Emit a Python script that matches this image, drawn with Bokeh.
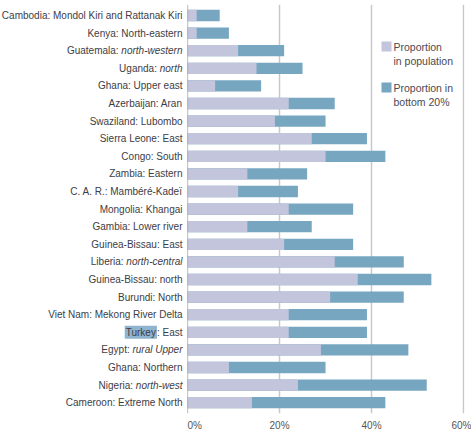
from bokeh.plotting import figure
from bokeh.layouts import row
from bokeh.models import (Range1d, FixedTicker, PrintfTickFormatter, Span, Label,
                          ColumnDataSource, BoxAnnotation)
from bokeh.core.properties import value
from bokeh.embed import file_html
from bokeh.resources import INLINE

# ---------------- data ----------------
label_main = [
    "Cambodia: Mondol Kiri and Rattanak Kiri",
    "Kenya: North-eastern",
    "Guatemala:",
    "Uganda:",
    "Ghana: Upper east",
    "Azerbaijan: Aran",
    "Swaziland: Lubombo",
    "Sierra Leone: East",
    "Congo: South",
    "Zambia: Eastern",
    "C. A. R.: Mambéré-Kadeï",
    "Mongolia: Khangai",
    "Gambia: Lower river",
    "Guinea-Bissau: East",
    "Liberia:",
    "Guinea-Bissau: north",
    "Burundi: North",
    "Viet Nam: Mekong River Delta",
    "Turkey: East",
    "Egypt:",
    "Ghana: Northern",
    "Nigeria:",
    "Cameroon: Extreme North",
]
label_italic = [
    "", "", "north-western", "north", "", "", "", "", "", "", "", "",
    "", "", "north-central", "", "", "", "", "rural Upper", "", "north-west", "",
]
pop = [2, 2, 11, 15, 6, 22, 19, 27, 30, 13, 11, 22, 13, 21, 32, 37, 31, 22, 22, 29, 9, 24, 14]
bottom20 = [7, 9, 21, 25, 16, 32, 30, 39, 43, 26, 24, 36, 27, 36, 47, 53, 47, 39, 39, 48, 30, 52, 43]
x_ticks = [0, 20, 40, 60]
highlighted = {"Turkey: East": "Turkey"}
legend_labels = [["Proportion", "in population"], ["Proportion in", "bottom 20%"]]

# ---------------- style ----------------
FONT = "Liberation Sans"
FS = 10.0
LIGHT = "#c2c5dc"
BLUE = "#77a6c1"
TEXT = "#3d3d45"

# Arial / Liberation Sans advance widths, 1/1000 em
W = {" ": 278, ":": 278, "-": 333, "E": 667, "U": 722, "T": 611, "a": 556, "c": 500,
     "e": 556, "h": 556, "k": 500, "l": 222, "n": 556, "o": 556, "p": 556, "r": 333,
     "s": 500, "t": 278, "u": 556, "w": 722, "y": 500}


def tw(s):
    return sum(W.get(c, 520) for c in s) * FS / 1000.0


n = len(label_main)
ypos = [n - 1 - i for i in range(n)]

TOP = 4
FH = 409
LW = 187          # width of label column (page x of 0%)
FW = 277
yr = Range1d(-0.614, 22.625)

# ---------------- label column ----------------
lab = figure(frame_width=LW, frame_height=FH, min_border_left=0, min_border_right=0,
             min_border_top=TOP, min_border_bottom=0,
             x_range=Range1d(0, 1), y_range=yr, x_axis_location=None, y_axis_location=None,
             output_backend="svg", toolbar_location=None)
lab.outline_line_color = None
lab.grid.visible = False

GAP = 5
main_txt, main_off = [], []
for i, (m, it) in enumerate(zip(label_main, label_italic)):
    txt = m
    off = GAP
    if it:
        off += tw(it) + tw(" ")
    if m in highlighted:
        word = highlighted[m]
        rest = m[len(word):]
        txt = rest
        lab.text(x=[1], y=[ypos[i]], text=[word], x_offset=-(GAP + tw(rest)),
                 text_align="right", text_baseline="middle",
                 text_font=value(FONT), text_font_size="%gpx" % FS, text_color=TEXT,
                 background_fill_color="#8fb4d0", padding=1)
    main_txt.append(txt)
    main_off.append(-off)

lab_src = ColumnDataSource(dict(x=[1] * n, y=ypos, text=main_txt, xoff=main_off))
lab.text(x="x", y="y", text="text", x_offset="xoff", source=lab_src,
         text_align="right", text_baseline="middle", text_font=value(FONT),
         text_font_size="%gpx" % FS, text_color=TEXT)
it_src = ColumnDataSource(dict(x=[1] * n, y=ypos, text=label_italic))
lab.text(x="x", y="y", text="text", x_offset=-GAP, source=it_src,
         text_align="right", text_baseline="middle", text_font=value(FONT),
         text_font_style="italic", text_font_size="%gpx" % FS, text_color=TEXT)

# ---------------- bars ----------------
p = figure(frame_width=FW, frame_height=FH, min_border_left=0, min_border_right=471 - LW - FW,
           min_border_top=TOP, min_border_bottom=0,
           x_range=Range1d(0, 60.2), y_range=yr, y_axis_location=None,
           output_backend="svg", toolbar_location=None)
p.outline_line_color = None
p.background_fill_color = "white"

src = ColumnDataSource(dict(y=ypos, pop=pop, bottom=bottom20))
p.hbar(y="y", left=0, right="bottom", height=0.64, source=src, fill_color=BLUE, line_color=None)
p.hbar(y="y", left=0, right="pop", height=0.64, source=src, fill_color=LIGHT, line_color=None)

p.ygrid.grid_line_color = None
p.xgrid.ticker = FixedTicker(ticks=x_ticks)
p.xgrid.grid_line_color = "#c8c8c8"
p.xgrid.grid_line_width = 1.5
ax = p.xaxis[0]
ax.ticker = FixedTicker(ticks=x_ticks)
ax.formatter = PrintfTickFormatter(format="%d%%")
ax.axis_line_color = None
ax.major_tick_line_color = None
ax.minor_tick_line_color = None
ax.major_tick_out = 0
ax.major_tick_in = 0
ax.minor_tick_out = 0
ax.minor_tick_in = 0
ax.major_label_standoff = 6
ax.major_label_text_font = FONT
ax.major_label_text_font_size = "10px"
ax.major_label_text_color = "#555555"

p.add_layout(Span(location=0, dimension="height", line_color="#8c8f96", line_width=1.2))

# legend (screen units relative to frame: x from frame left, y from frame bottom)
FRAME_BOTTOM_PAGE = TOP + FH


def sx(page_x):
    return page_x - LW


def sy(page_y):
    return FRAME_BOTTOM_PAGE - page_y


legend_colors = [LIGHT, BLUE]
legend_top = [41, 82]
for k, (col, lines) in enumerate(zip(legend_colors, legend_labels)):
    t = legend_top[k]
    p.add_layout(BoxAnnotation(left=sx(381), right=sx(391), top=sy(t), bottom=sy(t + 10),
                               left_units="screen", right_units="screen",
                               top_units="screen", bottom_units="screen",
                               fill_color=col, fill_alpha=1, line_color=None))
    for j, line in enumerate(lines):
        p.add_layout(Label(x=sx(393), y=sy(t + 5 + 14.5 * j), x_units="screen", y_units="screen",
                           text=line, text_align="left", text_baseline="middle",
                           text_font=FONT, text_font_size="10.5px", text_color="#4a4a52"))

layout = row(lab, p)
open("out.html", "w").write(file_html(layout, INLINE))
